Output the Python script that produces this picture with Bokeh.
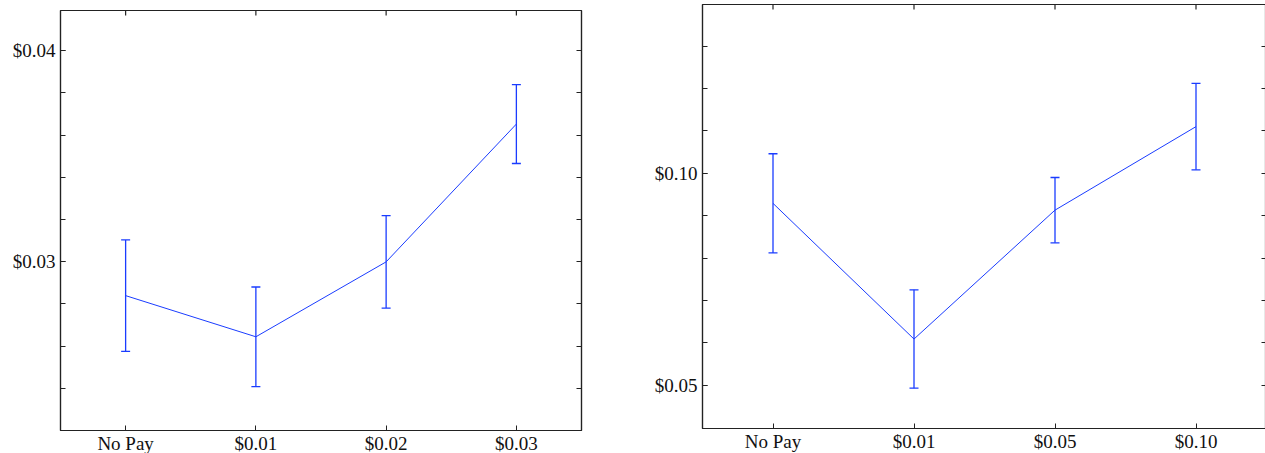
import math
from bokeh.plotting import figure
from bokeh.models import (ColumnDataSource, Whisker, TeeHead, FactorRange, Range1d,
                          FixedTicker, LinearAxis, CategoricalAxis, Spacer)
from bokeh.layouts import row, column
from bokeh.embed import file_html
from bokeh.resources import INLINE

# ---- data: left panel ----
left_cats = ["No Pay", "$0.01", "$0.02", "$0.03"]
left_means = [0.02839, 0.02644, 0.02999, 0.03652]
left_errs = [0.00264, 0.00236, 0.00219, 0.00187]
left_major_ticks = [0.03, 0.04]
left_major_labels = ["$0.03", "$0.04"]
left_minor_ticks = [0.024, 0.026, 0.028, 0.030, 0.032, 0.034, 0.036, 0.038, 0.040]

# ---- data: right panel ----
right_cats = ["No Pay", "$0.01", "$0.05", "$0.10"]
right_means = [0.0929, 0.0609, 0.0913, 0.1110]
right_errs = [0.0117, 0.0116, 0.0077, 0.0102]
right_major_ticks = [0.05, 0.10]
right_major_labels = ["$0.05", "$0.10"]
right_minor_ticks = [0.05, 0.06, 0.07, 0.08, 0.09, 0.10, 0.11, 0.12, 0.13]

FONT = "Liberation Serif"
FSIZE = "19px"
BLUE = "#1a3cff"
FRAME = "#222222"


def style_axis(ax):
    ax.axis_line_color = FRAME
    ax.axis_line_width = 1.2
    ax.major_tick_in = 5
    ax.major_tick_out = 0
    ax.minor_tick_in = 5
    ax.minor_tick_out = 0
    ax.major_tick_line_color = FRAME
    ax.minor_tick_line_color = FRAME
    ax.major_label_text_font = FONT
    ax.major_label_text_font_size = FSIZE
    ax.major_label_text_color = "#111111"
    ax.major_label_standoff = 5


def make_panel(cats, means, errs, major, labels, minor, ystart, yend,
               fw, fh, bl, br, bt, bb):
    p = figure(x_range=FactorRange(factors=cats, range_padding=0),
               y_range=Range1d(ystart, yend),
               frame_width=fw, frame_height=fh,
               min_border_left=bl, min_border_right=br,
               min_border_top=bt, min_border_bottom=bb,
               toolbar_location=None, output_backend="svg",
               x_axis_location=None, y_axis_location=None)
    p.grid.visible = False
    p.outline_line_color = FRAME
    p.outline_line_width = 1.2
    p.background_fill_color = "white"
    p.border_fill_color = "white"

    src = ColumnDataSource(dict(
        x=cats, y=means,
        upper=[m + e for m, e in zip(means, errs)],
        lower=[m - e for m, e in zip(means, errs)],
    ))
    p.line(x="x", y="y", source=src, line_color=BLUE, line_width=1)
    w = Whisker(base="x", upper="upper", lower="lower", source=src,
                line_color=BLUE, line_width=1.3,
                upper_head=TeeHead(size=9, line_color=BLUE, line_width=1.3),
                lower_head=TeeHead(size=9, line_color=BLUE, line_width=1.3))
    p.add_layout(w)

    overrides = {t: l for t, l in zip(major, labels)}

    yl = LinearAxis(ticker=FixedTicker(ticks=major, minor_ticks=minor),
                    major_label_overrides=overrides)
    style_axis(yl)
    p.add_layout(yl, "left")

    # mirrored ticks on the right: minor ticks only, so no labels
    yr = LinearAxis(ticker=FixedTicker(ticks=[], minor_ticks=minor))
    style_axis(yr)
    yr.major_label_standoff = 0
    p.add_layout(yr, "right")

    xb = CategoricalAxis()
    style_axis(xb)
    xb.major_label_standoff = 2
    p.add_layout(xb, "below")

    # mirrored ticks on top edge at the category centres (half clipped by frame)
    p.scatter(x=cats, y=[yend] * len(cats), marker="dash", size=10,
              angle=math.pi / 2, line_color=FRAME, line_width=1.2)
    return p


p1 = make_panel(left_cats, left_means, left_errs, left_major_ticks, left_major_labels,
                left_minor_ticks, 0.0220, 0.0419,
                fw=521, fh=420, bl=60, br=61, bt=4, bb=23)
p2 = make_panel(right_cats, right_means, right_errs, right_major_ticks, right_major_labels,
                right_minor_ticks, 0.0398, 0.1398,
                fw=564, fh=424, bl=60, br=0, bt=4, bb=25)

layout = row(column(Spacer(width=10, height=6), p1), p2)
open("out.html", "w").write(file_html(layout, INLINE))
